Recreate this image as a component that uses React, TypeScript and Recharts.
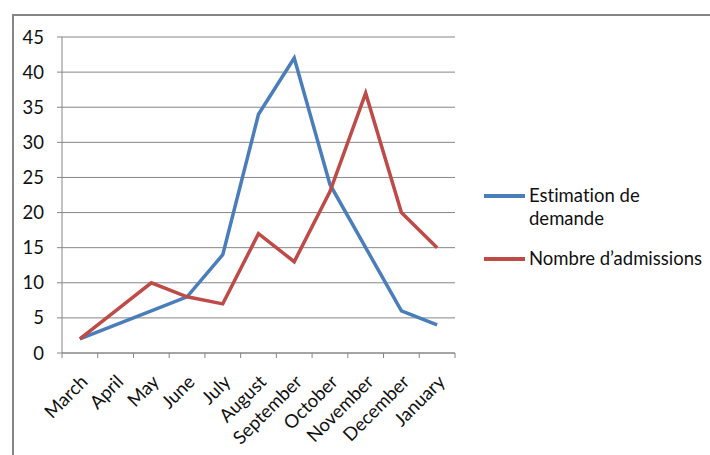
import { LineChart, Line, XAxis, YAxis, CartesianGrid, Legend } from 'recharts';

const months = ['March', 'April', 'May', 'June', 'July', 'August', 'September', 'October', 'November', 'December', 'January'];
const estimation = [2, 4, 6, 8, 14, 34, 42, 24, 15, 6, 4];
const admissions = [2, 6, 10, 8, 7, 17, 13, 23, 37, 20, 15];
const yTicks = [0, 5, 10, 15, 20, 25, 30, 35, 40, 45];

const data = months.map((month, i) => ({
  month,
  estimation: estimation[i],
  admissions: admissions[i],
}));

const WIDTH = 710;
const HEIGHT = 455;
const PLOT_LEFT = 62;
const PLOT_RIGHT = 455;
const PLOT_TOP = 37;
const PLOT_BOTTOM = 353;
const HALF_BAND = (PLOT_RIGHT - PLOT_LEFT) / months.length / 2;

const FONT = 'Lato, "Liberation Sans", sans-serif';
const FONT_SIZE = 18.5;
const AXIS_GREY = '#868686';
const BLUE = '#4A7EBB';
const RED = '#BE4B48';

// category labels sit under the band centre, tick marks go on the band edges
function MonthTick(props: any) {
  const { x, y, payload, index } = props;
  const left = x - HALF_BAND;
  const right = x + HALF_BAND;
  const tx = x + 9;
  const ty = y + 30;
  return (
    <g>
      <line x1={left} x2={left} y1={y} y2={y + 5} stroke={AXIS_GREY} />
      {index === months.length - 1 && <line x1={right} x2={right} y1={y} y2={y + 5} stroke={AXIS_GREY} />}
      <text
        x={tx}
        y={ty}
        textAnchor="end"
        transform={`rotate(-45, ${tx}, ${ty})`}
        fontFamily={FONT}
        fontSize={FONT_SIZE}
        fill="#111"
        style={{ fontVariantLigatures: 'none' }}
      >
        {payload.value}
      </text>
    </g>
  );
}

function LegendContent(props: any) {
  const { payload } = props;
  return (
    <div style={{ fontFamily: FONT, fontSize: FONT_SIZE, lineHeight: '23px', color: '#111', fontVariantLigatures: 'none' }}>
      {payload.map((item: any, i: number) => (
        <div key={item.value} style={{ display: 'flex', alignItems: 'flex-start', marginTop: i === 0 ? 0 : 17 }}>
          <div style={{ width: 41, height: 3.5, background: item.color, marginTop: 10, marginRight: 4, flexShrink: 0 }} />
          <div style={{ width: 176 }}>{item.value}</div>
        </div>
      ))}
    </div>
  );
}

export default function App() {
  return (
    <div style={{ position: 'fixed', left: 0, top: 0, width: WIDTH, height: HEIGHT, background: '#fff', overflow: 'hidden' }}>
      <div
        style={{
          position: 'absolute',
          left: 12,
          top: 14,
          width: WIDTH,
          height: HEIGHT,
          borderLeft: `2px solid ${AXIS_GREY}`,
          borderTop: `2px solid ${AXIS_GREY}`,
        }}
      />
      <div style={{ position: 'absolute', left: 0, top: 0 }}>
        <LineChart
          width={WIDTH}
          height={HEIGHT}
          data={data}
          margin={{ top: PLOT_TOP, right: WIDTH - PLOT_RIGHT, bottom: 0, left: 0 }}
        >
          <CartesianGrid vertical={false} stroke={AXIS_GREY} strokeWidth={1} />
          <XAxis
            dataKey="month"
            scale="band"
            height={HEIGHT - PLOT_BOTTOM}
            stroke={AXIS_GREY}
            tickLine={false}
            tickSize={0}
            tickMargin={0}
            interval={0}
            tick={<MonthTick />}
          />
          <YAxis
            width={PLOT_LEFT}
            domain={[0, 45]}
            ticks={yTicks}
            interval={0}
            stroke={AXIS_GREY}
            tickSize={5}
            tickMargin={13}
            tick={{ fill: '#111', fontSize: FONT_SIZE, fontFamily: FONT }}
          />
          <Legend
            layout="vertical"
            align="center"
            verticalAlign="middle"
            wrapperStyle={{ left: 484, top: 184, width: 226 }}
            content={<LegendContent />}
          />
          <Line
            type="linear"
            dataKey="estimation"
            name="Estimation de demande"
            stroke={BLUE}
            strokeWidth={3.5}
            dot={false}
            isAnimationActive={false}
          />
          <Line
            type="linear"
            dataKey="admissions"
            name="Nombre d’admissions"
            stroke={RED}
            strokeWidth={3.5}
            dot={false}
            isAnimationActive={false}
          />
        </LineChart>
      </div>
    </div>
  );
}
